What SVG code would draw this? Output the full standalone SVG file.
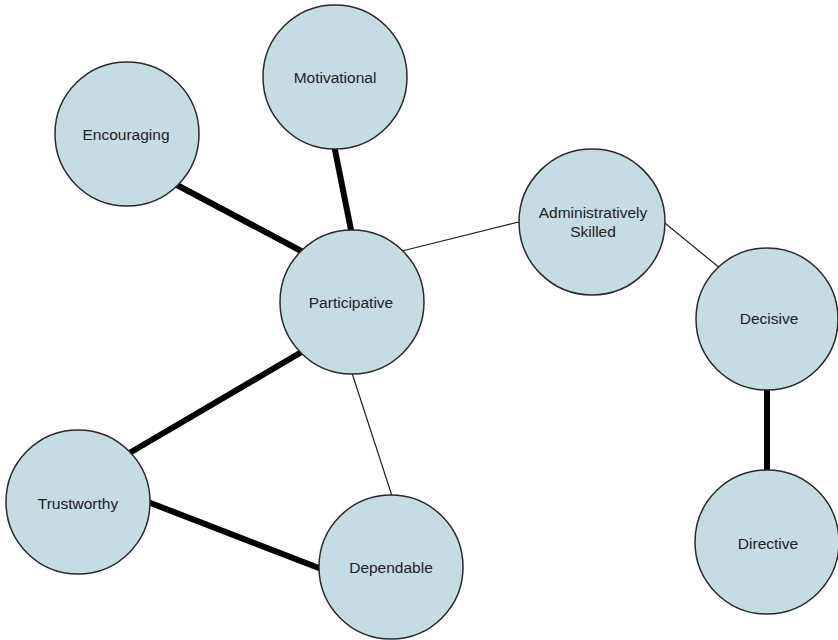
<svg xmlns="http://www.w3.org/2000/svg" width="838" height="640" viewBox="0 0 838 640">
  <style>
    .node circle { fill: #c5dce3; stroke: #2a2a2a; stroke-width: 1.5; }
    .node text { font-family: "Liberation Sans", Arial, sans-serif; font-size: 15.5px; fill: #222; text-anchor: middle; }
    .strong { stroke: #000; stroke-width: 6; stroke-linecap: butt; }
    .weak { stroke: #222; stroke-width: 1.2; }
  </style>
  <rect width="838" height="640" fill="#fff"/>

  <!-- links between traits -->
  <g id="connectors">
    <line class="strong" x1="175" y1="184" x2="305" y2="253"/>
    <line class="strong" x1="334" y1="145" x2="352" y2="235"/>
    <line class="weak" x1="398" y1="252" x2="523" y2="221"/>
    <line class="weak" x1="660" y1="219" x2="721" y2="269"/>
    <line class="strong" x1="767" y1="385" x2="767" y2="475"/>
    <line class="strong" x1="305" y1="350" x2="126" y2="455"/>
    <line class="weak" x1="351" y1="370" x2="393" y2="499"/>
    <line class="strong" x1="148" y1="502" x2="324" y2="570"/>
  </g>

  <g id="motivational" class="node">
    <circle cx="335" cy="77" r="72"/>
    <text x="335" y="83">Motivational</text>
  </g>
  <g id="encouraging" class="node">
    <circle cx="127" cy="134" r="72"/>
    <text x="126" y="140">Encouraging</text>
  </g>
  <g id="participative" class="node">
    <circle cx="352" cy="302" r="72"/>
    <text x="351" y="308">Participative</text>
  </g>
  <g id="administratively-skilled" class="node">
    <circle cx="592" cy="222" r="73"/>
    <text x="593" y="218">Administratively</text>
    <text x="593" y="237">Skilled</text>
  </g>
  <g id="decisive" class="node">
    <circle cx="767" cy="319" r="71"/>
    <text x="769" y="324">Decisive</text>
  </g>
  <g id="trustworthy" class="node">
    <circle cx="78" cy="502" r="72"/>
    <text x="78" y="509">Trustworthy</text>
  </g>
  <g id="dependable" class="node">
    <circle cx="391" cy="567" r="72"/>
    <text x="391" y="573">Dependable</text>
  </g>
  <g id="directive" class="node">
    <circle cx="767" cy="542" r="72"/>
    <text x="768" y="549">Directive</text>
  </g>
</svg>
